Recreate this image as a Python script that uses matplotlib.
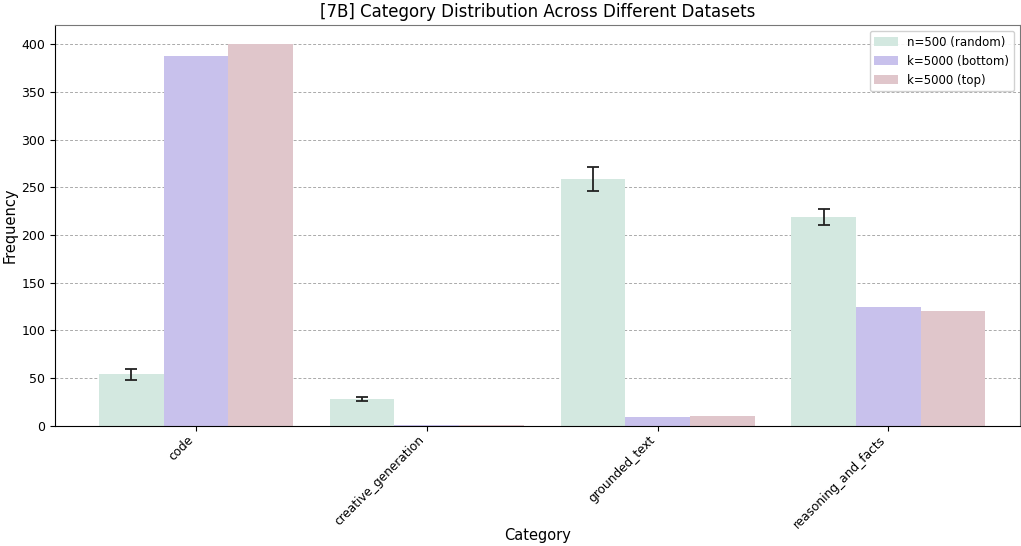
import numpy as np
import matplotlib
matplotlib.use('Agg')
import matplotlib.pyplot as plt

# --- Data ---
categories = ['code', 'creative_generation', 'grounded_text', 'reasoning_and_facts']
series_names = ['n=500 (random)', 'k=5000 (bottom)', 'k=5000 (top)']
random_vals = [54, 28, 259, 219]
random_err = [5.5, 2, 12.5, 8.5]
bottom_vals = [388, 0.5, 9, 125]
top_vals = [400, 0.5, 10.5, 120]

colors = ['#d3e8e0', '#c8c1ec', '#e0c6cb']

fig = plt.figure(figsize=(10.21, 5.46), dpi=100)
ax = fig.add_axes([0.054, 0.22, 0.945, 0.734])

x = np.arange(len(categories))
width = 0.28
all_vals = [random_vals, bottom_vals, top_vals]
for i, (vals, name) in enumerate(zip(all_vals, series_names)):
    ax.bar(x + (i - 1) * width, vals, width=width, color=colors[i],
           edgecolor='none', label=name, zorder=2)

ax.errorbar(x - width, random_vals, yerr=random_err, fmt='none',
            ecolor='#222222', elinewidth=1.3, capsize=4, capthick=1.3, zorder=3)

ax.set_xlim(-0.61, 3.57)
ax.set_ylim(0, 420)
ax.set_xticks(x)
ax.set_xticklabels(categories, rotation=45, ha='right', fontsize=8.7)
ax.tick_params(axis='x', pad=2)
ax.tick_params(axis='y', labelsize=9)
ax.grid(axis='y', linestyle=(0, (3, 2)), color='#aaaaaa', linewidth=0.7, zorder=0)
ax.set_axisbelow(True)

for side in ['top', 'right']:
    ax.spines[side].set_color('#777777')

ax.set_title('[7B] Category Distribution Across Different Datasets', fontsize=12)
ax.set_xlabel('Category', fontsize=10.5, labelpad=-2)
ax.set_ylabel('Frequency', fontsize=10.5)
ax.yaxis.set_label_coords(-0.039, 0.5)
ax.legend(loc='upper right', fontsize=8.5, framealpha=0.9)

fig.savefig('out.png', dpi=100)
